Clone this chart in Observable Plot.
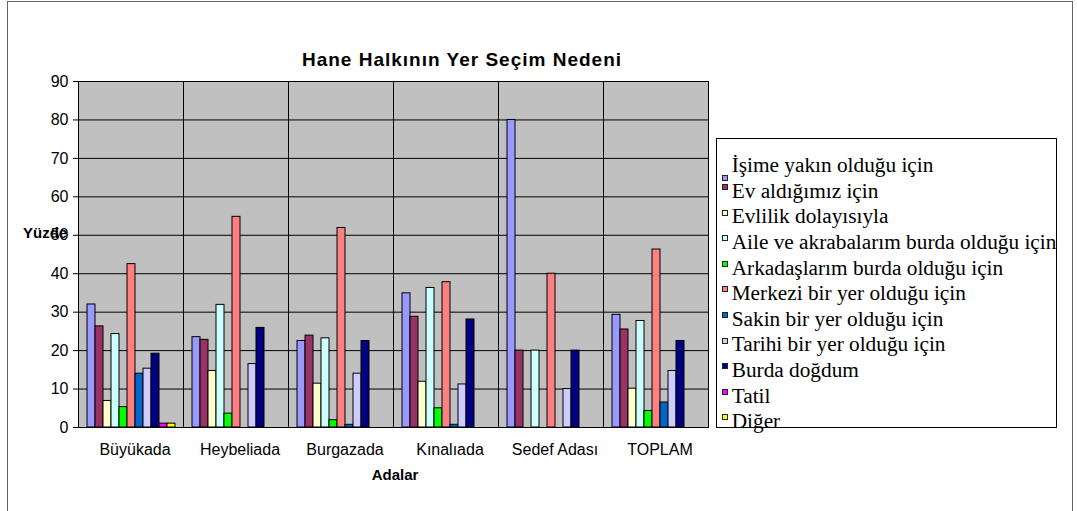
<!DOCTYPE html>
<html>
<head>
<meta charset="utf-8">
<script src="https://cdn.jsdelivr.net/npm/d3@7"></script>
<script src="https://cdn.jsdelivr.net/npm/@observablehq/plot@0.6"></script>
<style>
  html, body { margin: 0; padding: 0; background: #fff; overflow: hidden; }
  #wrap { position: relative; width: 1077px; height: 511px; overflow: hidden; font-family: "Liberation Sans", Arial, sans-serif; }
  #outer { position: absolute; left: 7px; top: 1px; width: 1066px; height: 600px; border: 1px solid #666; box-sizing: border-box; }
  #chart { position: absolute; left: 0; top: 0; }
  .lbl { position: absolute; white-space: nowrap; line-height: 1; color: #000; }
  #legend { position: absolute; left: 716px; top: 138px; width: 341px; height: 290px; border: 1px solid #000; box-sizing: border-box; background: #fff; }
  .lrow { position: absolute; font-family: "Liberation Serif", "Times New Roman", serif; font-size: 21.3px; line-height: 21px; white-space: nowrap; color: #000; }
  .sw { position: absolute; width: 4px; height: 4px; border: 1px solid #222; }
</style>
</head>
<body>
<div id="wrap">
  <div id="outer"></div>
  <div id="chart"></div>
  <div class="lbl" id="title" style="left:0;width:924px;text-align:center;top:50px;font-size:19px;font-weight:bold;letter-spacing:1px;">Hane Halkının Yer Seçim Nedeni</div>
  <div class="lbl" id="ylab" style="left:23px;top:225px;font-size:15px;font-weight:bold;">Yüzde</div>
  <div class="lbl" id="xlab" style="left:295px;width:200px;text-align:center;top:467px;font-size:15px;font-weight:bold;">Adalar</div>
  <div id="legend"></div>
</div>
<script>
// Categories (islands)
const groups = ["Büyükada", "Heybeliada", "Burgazada", "Kınalıada", "Sedef Adası", "TOPLAM"];
// Series (reasons)
const reasons = [
  "İşime yakın olduğu için",
  "Ev aldığımız için",
  "Evlilik dolayısıyla",
  "Aile ve akrabalarım burda olduğu için",
  "Arkadaşlarım burda olduğu için",
  "Merkezi bir yer olduğu için",
  "Sakin bir yer olduğu için",
  "Tarihi bir yer olduğu için",
  "Burda doğdum",
  "Tatil",
  "Diğer"
];
const colors = ["#9999FF", "#993366", "#FFFFCC", "#CCFFFF", "#00FF00", "#FF8080", "#0066CC", "#CCCCFF", "#000080", "#FF00FF", "#FFFF00"];

// Series values, one per island in the order of `groups`
const isimeYakin = [32.0, 23.5, 22.5, 34.9, 80.0, 29.3];
const evAldik    = [26.3, 22.8, 23.9, 28.8, 20.0, 25.5];
const evlilik    = [6.9, 14.7, 11.4, 11.9, 0, 10.1];
const aile       = [24.3, 31.9, 23.2, 36.3, 20.0, 27.7];
const arkadas    = [5.3, 3.6, 1.9, 5.0, 0, 4.3];
const merkezi    = [42.5, 54.8, 51.9, 37.8, 40.0, 46.3];
const sakin      = [14.0, 0, 0.7, 0.7, 0, 6.5];
const tarihi     = [15.3, 16.5, 14.0, 11.2, 10.0, 14.7];
const burdaDogdum= [19.2, 25.9, 22.5, 28.1, 20.0, 22.5];
const tatil      = [1.0, 0, 0, 0, 0, 0];
const diger      = [1.0, 0, 0, 0, 0, 0];

const yTicks = [0, 10, 20, 30, 40, 50, 60, 70, 80, 90];

const series = [isimeYakin, evAldik, evlilik, aile, arkadas, merkezi, sakin, tarihi, burdaDogdum, tatil, diger];
const data = [];
groups.forEach((g, gi) => {
  reasons.forEach((r, ri) => {
    data.push({group: g, reason: r, value: series[ri][gi]});
  });
});

const chart = Plot.plot({
  width: 1077,
  height: 511,
  marginLeft: 77,
  marginRight: 369,
  marginTop: 81,
  marginBottom: 84,
  style: {fontFamily: "'Liberation Sans', Arial, sans-serif", background: "transparent", color: "#000"},
  fx: {domain: groups, padding: 0, label: null},
  x: {domain: reasons, paddingInner: 0, paddingOuter: 0.75, axis: null},
  y: {domain: [0, 90], label: null},
  color: {domain: reasons, range: colors},
  marks: [
    Plot.frame({fill: "#C0C0C0", stroke: null}),
    Plot.gridY(yTicks, {stroke: "#000", strokeOpacity: 1, strokeWidth: 1}),
    Plot.barY(data, {
      fx: "group", x: "reason", y: "value", fill: "reason",
      stroke: "#000", strokeWidth: 1,
      filter: d => d.value > 0
    }),
    Plot.frame({stroke: "#000", strokeWidth: 1}),
    Plot.axisY(yTicks, {tickSize: 5, tickPadding: 5, fontSize: 16, label: null}),
    Plot.axisFx({anchor: "bottom", tickSize: 0, tickPadding: 16, fontSize: 16, label: null, dx: 4})
  ]
});
document.getElementById("chart").appendChild(chart);

// Legend
const legend = document.getElementById("legend");
reasons.forEach((r, i) => {
  const baseline = 172.7 + i * 25.6 - 138 - 1;
  const row = document.createElement("div");
  row.className = "lrow";
  row.style.left = (731.7 - 716 - 1) + "px";
  row.style.top = (baseline - 17.6) + "px";
  row.textContent = r;
  legend.appendChild(row);
  const sw = document.createElement("div");
  sw.className = "sw";
  sw.style.background = colors[i];
  sw.style.left = (722 - 716 - 1) + "px";
  sw.style.top = (i === 0 ? baseline + 2.3 : baseline - 14.3) + "px";
  legend.appendChild(sw);
});
</script>
</body>
</html>
